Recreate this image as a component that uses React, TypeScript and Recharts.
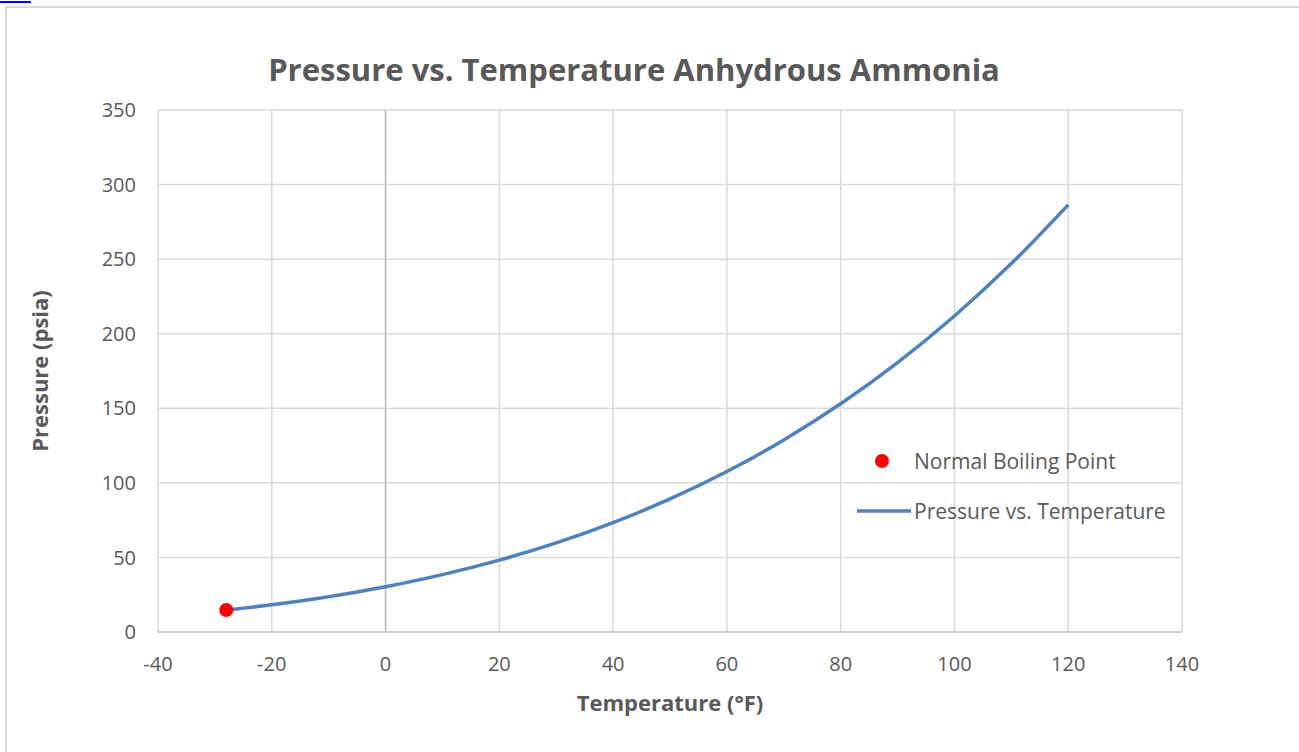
import {
	CartesianGrid,
	ComposedChart,
	Legend,
	Line,
	ReferenceLine,
	Scatter,
	XAxis,
	YAxis,
} from "recharts"

// saturated anhydrous ammonia
const temperatures = [-28, -20, -10, 0, 10, 20, 30, 40, 50, 60, 70, 80, 90, 100, 110, 120]
const pressures = [14.7, 18.3, 23.7, 30.4, 38.5, 48.2, 59.7, 73.3, 89.2, 107.6, 128.8, 153.0, 180.6, 211.9, 247.0, 286.4]

const boilingTemp = [-28]
const boilingPressure = [14.7]

const xTicks = [-40, -20, 0, 20, 40, 60, 80, 100, 120, 140]
const yTicks = [0, 50, 100, 150, 200, 250, 300, 350]

const FONT = "'Open Sans', sans-serif"
const TEXT = "#595959"

const curve = temperatures.map((t, i) => ({ t, p: pressures[i] }))
const boiling = boilingTemp.map((t, i) => ({ t, p: boilingPressure[i] }))

function ChartLegend() {
	return (
		<div style={{ fontFamily: FONT, fontSize: 21, color: TEXT }}>
			<div style={{ display: "flex", alignItems: "center", height: 50 }}>
				<svg width={57} height={20}>
					<circle cx={25} cy={10} r={7} fill="#FF0000" />
				</svg>
				<span>Normal Boiling Point</span>
			</div>
			<div style={{ display: "flex", alignItems: "center", height: 50 }}>
				<svg width={57} height={20}>
					<line x1={0} y1={10} x2={54} y2={10} stroke="#4F81BD" strokeWidth={3.5} />
				</svg>
				<span>Pressure vs. Temperature</span>
			</div>
		</div>
	)
}

export default function App() {
	return (
		<div style={{ position: "absolute", left: 0, top: 0, width: 1299, height: 752, overflow: "hidden", background: "#fff" }}>
			<div style={{ position: "absolute", left: 0, top: 1, width: 31, height: 2, background: "#0000FF" }} />
			<div style={{ position: "absolute", left: 5, top: 6, width: 1310, height: 780, border: "2px solid #D9D9D9" }} />
			<div
				style={{
					position: "absolute",
					left: 0,
					top: 48,
					width: 1268,
					textAlign: "center",
					fontFamily: FONT,
					fontWeight: 700,
					fontSize: 31,
					color: TEXT,
				}}
			>
				Pressure vs. Temperature Anhydrous Ammonia
			</div>
			<div style={{ position: "absolute", left: 0, top: 0 }}>
				<ComposedChart width={1299} height={752} margin={{ top: 110, right: 117, bottom: 90, left: 98 }}>
					<CartesianGrid stroke="#D9D9D9" strokeWidth={1.5} horizontalValues={yTicks} verticalValues={xTicks} />
					<XAxis
						type="number"
						dataKey="t"
						domain={[-40, 140]}
						ticks={xTicks}
						height={30}
						tickLine={false}
						tickSize={0}
						tickMargin={25}
						axisLine={{ stroke: "#C8C8C8", strokeWidth: 1.5 }}
						tick={{ fill: TEXT, fontSize: 20, fontFamily: FONT }}
						label={{
							value: "Temperature (°F)",
							position: "insideBottom",
							offset: -49,
							fill: TEXT,
							fontSize: 22,
							fontWeight: 700,
							fontFamily: FONT,
						}}
					/>
					<YAxis
						type="number"
						dataKey="p"
						domain={[0, 350]}
						ticks={yTicks}
						width={60}
						tickLine={false}
						axisLine={false}
						tickSize={0}
						tickMargin={22}
						tick={{ fill: TEXT, fontSize: 20, fontFamily: FONT }}
						label={{
							value: "Pressure (psia)",
							angle: -90,
							position: "center",
							dx: -88,
							fill: TEXT,
							fontSize: 22,
							fontWeight: 700,
							fontFamily: FONT,
						}}
					/>
					<ReferenceLine x={0} stroke="#BFBFBF" strokeWidth={1.5} />
					<Legend
						verticalAlign="middle"
						align="center"
						layout="horizontal"
						content={() => <ChartLegend />}
						wrapperStyle={{ position: "absolute", left: 857, top: 436, width: 340 }}
					/>
					<Line
						data={curve}
						dataKey="p"
						type="monotone"
						stroke="#4F81BD"
						strokeWidth={3.5}
						dot={false}
						activeDot={false}
						isAnimationActive={false}
					/>
					<Scatter data={boiling} dataKey="p" fill="#FF0000" shape={(props: any) => <circle cx={props.cx} cy={props.cy} r={7} fill="#FF0000" />} isAnimationActive={false} />
				</ComposedChart>
			</div>
		</div>
	)
}
